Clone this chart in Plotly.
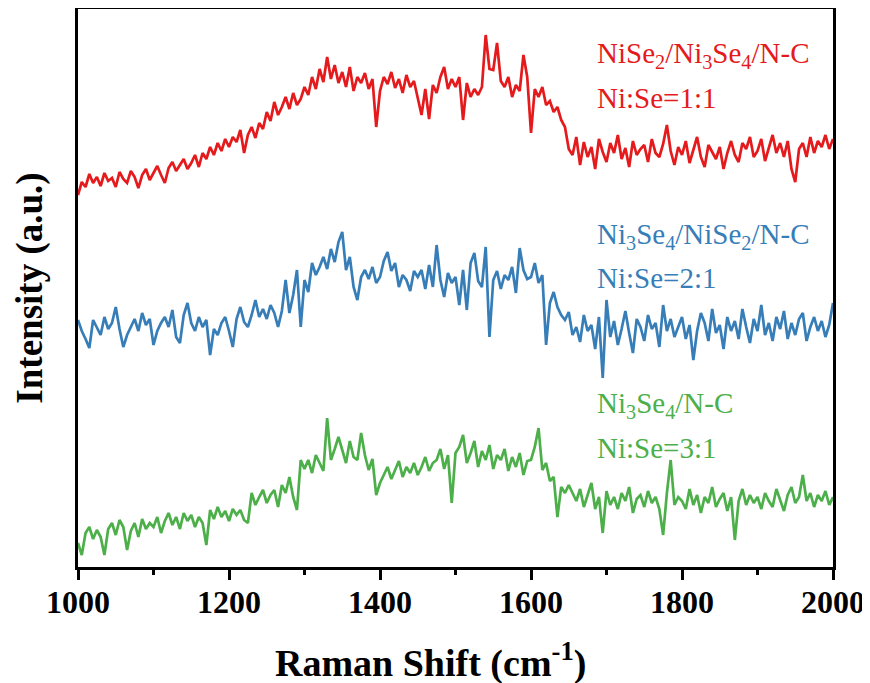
import plotly.graph_objects as go

# Raman shift grid (cm^-1), 5 cm^-1 sampling
raman_shift = list(range(1000, 2001, 5))

# Intensities (a.u., already vertically offset as in the figure)
red_ni_se_1_1 = [
    372, 385, 380, 393, 384, 390, 381, 394, 386, 389,
    380, 395, 388, 384, 396, 390, 379, 392, 398, 387,
    394, 401, 392, 384, 399, 405, 396, 402, 408, 398,
    404, 412, 400, 414, 408, 420, 412, 424, 416, 428,
    420, 430, 425, 437, 414, 432, 440, 429, 444, 438,
    455, 446, 465, 452, 460, 470, 458, 474, 462, 468,
    480, 472, 490, 478, 498, 485, 510, 488, 502, 484,
    495, 480, 500, 476, 490, 484, 494, 478, 488, 440,
    476, 490, 483, 495, 479, 488, 474, 492, 480, 486,
    470, 452, 478, 448, 482, 474, 490, 500, 478, 488,
    480, 490, 447, 484, 470, 478, 472, 480, 532, 498,
    497, 524, 486, 480, 490, 470, 482, 476, 512, 490,
    434, 478, 470, 480, 462, 466, 455, 460, 447, 440,
    418, 412, 430, 402, 425, 410, 420, 398, 428, 415,
    405, 424, 414, 432, 408, 419, 400, 426, 412, 418,
    422, 405, 428, 414, 410, 423, 442, 416, 402, 420,
    412, 426, 404, 418, 430, 410, 400, 422, 415, 408,
    420, 398, 414, 426, 412, 405, 424, 418, 430, 410,
    416, 428, 406, 420, 432, 414, 424, 410, 426, 398,
    385, 418, 424, 410, 430, 414, 426, 420, 432, 418,
    428,
]

blue_ni_se_2_1 = [
    247, 236, 228, 219, 247, 240, 232, 250, 238, 244,
    260, 238, 220, 232, 240, 248, 236, 254, 242, 248,
    222, 236, 244, 250, 240, 257, 230, 224, 252, 264,
    244, 236, 250, 240, 247, 212, 238, 232, 244, 250,
    236, 220, 248, 260, 245, 240, 252, 267, 250, 258,
    248, 262, 254, 240, 256, 287, 254, 272, 297, 240,
    287, 275, 304, 292, 300, 310, 298, 318, 305, 325,
    335, 297, 310, 280, 267, 290, 297, 288, 300, 284,
    290, 306, 315, 296, 304, 280, 292, 287, 276, 296,
    290, 297, 278, 302, 280, 322, 287, 270, 294, 284,
    290, 262, 297, 257, 304, 314, 286, 280, 320, 230,
    287, 296, 278, 292, 287, 300, 274, 319, 297, 288,
    290, 304, 284, 292, 222, 264, 275, 260, 252, 247,
    255, 232, 240, 225, 252, 236, 242, 218, 250, 189,
    267, 230, 246, 222, 238, 256, 234, 214, 248, 240,
    226, 252, 238, 244, 220, 262, 236, 248, 230, 240,
    250, 228, 242, 207, 236, 254, 244, 226, 258, 234,
    242, 218, 250, 236, 246, 228, 258, 240, 224, 248,
    236, 262, 232, 244, 226, 250, 238, 256, 228, 244,
    232, 248, 254, 226, 240, 250, 236, 246, 230, 242,
    264,
]

green_ni_se_3_1 = [
    24, 12, 34, 40, 28, 37, 30, 12, 38, 44,
    32, 47, 40, 17, 36, 44, 30, 48, 38, 44,
    40, 50, 34, 46, 54, 42, 50, 38, 54, 46,
    52, 40, 50, 44, 22, 57, 48, 60, 50, 56,
    46, 58, 52, 57, 47, 44, 74, 62, 70, 77,
    64, 72, 77, 60, 82, 74, 90, 70, 57, 107,
    98, 107, 94, 112, 104, 96, 149, 107, 118, 130,
    117, 104, 126, 110, 107, 134, 112, 97, 108, 72,
    84, 92, 100, 88, 97, 106, 90, 100, 94, 104,
    92, 100, 110, 96, 104, 107, 118, 98, 112, 64,
    114, 120, 132, 104, 114, 126, 100, 116, 107, 122,
    98, 112, 107, 118, 96, 110, 100, 114, 92, 106,
    107, 120, 139, 97, 104, 86, 90, 50, 80, 74,
    82, 74, 66, 78, 60, 72, 84, 58, 70, 34,
    76, 62, 70, 58, 74, 66, 80, 54, 68, 72,
    60, 76, 64, 70, 58, 32, 74, 107, 62, 70,
    66, 58, 78, 62, 72, 54, 70, 64, 80, 60,
    68, 74, 56, 70, 27, 66, 78, 62, 72, 64,
    70, 58, 74, 66, 60, 78, 68, 56, 72, 80,
    64, 70, 92, 66, 74, 60, 72, 66, 76, 62,
    70,
]

series_names = ["NiSe2/Ni3Se4/N-C", "Ni3Se4/NiSe2/N-C", "Ni3Se4/N-C"]
series_colors = ["#E41A1C", "#377EB8", "#4DAF4A"]
label_line1 = [
    "NiSe<sub>2</sub>/Ni<sub>3</sub>Se<sub>4</sub>/N-C",
    "Ni<sub>3</sub>Se<sub>4</sub>/NiSe<sub>2</sub>/N-C",
    "Ni<sub>3</sub>Se<sub>4</sub>/N-C",
]
label_line2 = ["Ni:Se=1:1", "Ni:Se=2:1", "Ni:Se=3:1"]
label_y1 = [512, 331, 162]
label_y2 = [469, 289, 119]
label_x = 1685

x_ticks = [1000, 1200, 1400, 1600, 1800, 2000]
x_title = "Raman Shift (cm<sup>-1</sup>)"
y_title = "Intensity (a.u.)"

SERIF = "Times New Roman, Liberation Serif, serif"

fig = go.Figure()
for name, ys, col in zip(series_names, [red_ni_se_1_1, blue_ni_se_2_1, green_ni_se_3_1], series_colors):
    fig.add_trace(go.Scatter(x=raman_shift, y=ys, mode="lines", name=name,
                             line=dict(color=col, width=2.7)))

for l1, l2, y1, y2, col in zip(label_line1, label_line2, label_y1, label_y2, series_colors):
    for txt, yy in ((l1, y1), (l2, y2)):
        fig.add_annotation(x=label_x, y=yy, text=txt, showarrow=False,
                           xanchor="left", yanchor="middle",
                           font=dict(family=SERIF, size=29, color=col))

# x-axis title (sits slightly left of the plot centre in the original)
fig.add_annotation(xref="paper", yref="paper", x=0.4675, y=-0.168,
                   text=x_title, showarrow=False, xanchor="center", yanchor="middle",
                   font=dict(family=SERIF, size=38, color="black", weight="bold"))

# page body adds an 8 px offset, so the figure is 8 px smaller than the window
fig.update_layout(
    width=862, height=675,
    margin=dict(l=70, r=37, t=1, b=116, autoexpand=False),
    paper_bgcolor="white", plot_bgcolor="white",
    showlegend=False,
    font=dict(family=SERIF, color="black"),
)
fig.update_xaxes(
    range=[1000, 2000], tickvals=x_ticks, ticktext=[str(t) for t in x_ticks],
    showgrid=False, zeroline=False, automargin=False,
    showline=True, linecolor="black", linewidth=3, mirror=True,
    ticks="outside", ticklen=10, tickwidth=3, tickcolor="black",
    ticklabelstandoff=-5,
    minor=dict(ticks="outside", ticklen=5, tickwidth=3, tickcolor="black",
               tickvals=[1100, 1300, 1500, 1700, 1900]),
    tickfont=dict(family=SERIF, size=32, color="black", weight="bold"),
)
fig.update_yaxes(
    range=[0, 558], showticklabels=False, ticks="",
    showgrid=False, zeroline=False, automargin=False,
    showline=True, linecolor="black", linewidth=3, mirror=True,
    title=dict(text=y_title, standoff=22,
               font=dict(family=SERIF, size=37, color="black", weight="bold")),
)

fig.write_html("out.html")
